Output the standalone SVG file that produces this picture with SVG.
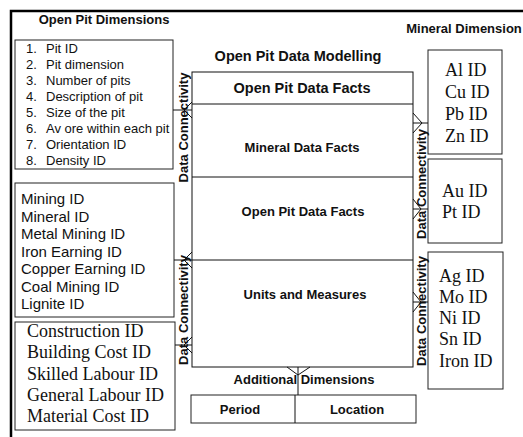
<svg xmlns="http://www.w3.org/2000/svg" width="523" height="437" viewBox="0 0 523 437">
<style>
.box{fill:#fff;stroke:#222;stroke-width:1}
.ln{fill:none;stroke:#111;stroke-width:1}
.frame{fill:none;stroke:#000;stroke-width:2.5}
.hd{font-family:"Liberation Sans",Arial,sans-serif;font-weight:bold;font-size:13px;fill:#111}
.sans{font-family:"Liberation Sans",Arial,sans-serif;font-size:13px;fill:#111}
.sans2{font-family:"Liberation Sans",Arial,sans-serif;font-size:15px;fill:#111}
.serif{font-family:"Liberation Serif","Times New Roman",serif;font-size:18px;fill:#111}
.dc{font-family:"Liberation Sans",Arial,sans-serif;font-weight:bold;font-size:13px;fill:#111}
</style>
<rect x="0" y="0" width="523" height="437" fill="#fff"/>
<g id="frame">
<path class="frame" d="M11,437 V11 H523"/>
</g>
<g id="titles">
<text class="hd" x="104" y="24" text-anchor="middle">Open Pit Dimensions</text>
<text class="hd" x="464" y="33" text-anchor="middle">Mineral Dimension</text>
<text class="hd" x="298" y="61" text-anchor="middle" style="font-size:14.5px">Open Pit Data Modelling</text>
</g>
<g id="pit-dimensions">
<rect class="box" x="15" y="40" width="158" height="129"/>
<g class="sans">
<text x="26" y="52.5">1.</text><text x="46" y="52.5">Pit ID</text>
<text x="26" y="68.6">2.</text><text x="46" y="68.6">Pit dimension</text>
<text x="26" y="84.7">3.</text><text x="46" y="84.7">Number of pits</text>
<text x="26" y="100.8">4.</text><text x="46" y="100.8">Description of pit</text>
<text x="26" y="116.9">5.</text><text x="46" y="116.9">Size of the pit</text>
<text x="26" y="133">6.</text><text x="46" y="133">Av ore within each pit</text>
<text x="26" y="149.1">7.</text><text x="46" y="149.1">Orientation ID</text>
<text x="26" y="165.2">8.</text><text x="46" y="165.2">Density ID</text>
</g>
</g>
<g id="mining-dimensions">
<rect class="box" x="15" y="183" width="159" height="134"/>
<g class="sans2">
<text x="21" y="204">Mining ID</text>
<text x="21" y="221.5">Mineral ID</text>
<text x="21" y="239">Metal Mining ID</text>
<text x="21" y="256.5">Iron Earning ID</text>
<text x="21" y="274">Copper Earning ID</text>
<text x="21" y="291.5">Coal Mining ID</text>
<text x="21" y="309">Lignite ID</text>
</g>
</g>
<g id="cost-dimensions">
<rect class="box" x="15" y="322" width="160" height="108"/>
<g class="serif">
<text x="27" y="337">Construction ID</text>
<text x="27" y="358.3">Building Cost ID</text>
<text x="27" y="379.6">Skilled Labour ID</text>
<text x="27" y="401">General Labour ID</text>
<text x="27" y="422">Material Cost ID</text>
</g>
</g>
<g id="fact-table">
<rect class="box" x="192" y="72" width="221" height="295" style="stroke:#111"/>
<line class="ln" x1="192" y1="104" x2="413" y2="104"/>
<line class="ln" x1="192" y1="177" x2="413" y2="177"/>
<line class="ln" x1="192" y1="260" x2="413" y2="260"/>
<text class="hd" x="302" y="93" text-anchor="middle" style="font-size:14.5px">Open Pit Data Facts</text>
<text class="hd" x="302" y="152" text-anchor="middle">Mineral Data Facts</text>
<text class="hd" x="303" y="216" text-anchor="middle">Open Pit Data Facts</text>
<text class="hd" x="305" y="299" text-anchor="middle">Units and Measures</text>
</g>
<g id="mineral-a">
<rect class="box" x="428" y="50" width="74" height="104"/>
<g class="serif">
<text x="445" y="76">Al ID</text>
<text x="445" y="98">Cu ID</text>
<text x="445" y="120">Pb ID</text>
<text x="445" y="142">Zn ID</text>
</g>
</g>
<g id="mineral-b">
<rect class="box" x="428" y="159" width="74" height="84"/>
<g class="serif">
<text x="442" y="197">Au ID</text>
<text x="442" y="218">Pt ID</text>
</g>
</g>
<g id="mineral-c">
<rect class="box" x="428" y="252" width="75" height="137"/>
<g class="serif">
<text x="439" y="281.5">Ag ID</text>
<text x="439" y="302.7">Mo ID</text>
<text x="439" y="324">Ni ID</text>
<text x="439" y="345">Sn ID</text>
<text x="439" y="366.5">Iron ID</text>
</g>
</g>
<g id="additional-dimensions">
<text class="hd" x="304" y="384" text-anchor="middle">Additional Dimensions</text>
<rect class="box" x="191" y="395" width="225" height="28"/>
<line class="ln" x1="295" y1="395" x2="295" y2="423"/>
<text class="hd" x="240" y="414" text-anchor="middle">Period</text>
<text class="hd" x="357" y="414" text-anchor="middle">Location</text>
</g>
<g id="connectors">
<path class="ln" d="M173,110 H192 M184,110 L192,102 M184,110 L192,118"/>
<path class="ln" d="M174,260 H192 M184,260 L192,252 M184,260 L192,268"/>
<path class="ln" d="M175,345 H192 M184,345 L192,337 M184,345 L192,353"/>
<path class="ln" d="M413,123 H428 M422,123 L413,113 M422,123 L413,133"/>
<path class="ln" d="M413,209 H428 M421,209 L413,199 M421,209 L413,219"/>
<path class="ln" d="M413,302 H428 M421,302 L413,292 M421,302 L413,312"/>
<path class="ln" d="M298,367 V395 M298,375 L287,367 M298,375 L310,367"/>
</g>
<g id="connectivity-labels">
<text class="dc" transform="translate(188,127.5) rotate(-90)" text-anchor="middle">Data Connectivity</text>
<text class="dc" transform="translate(188,310) rotate(-90)" text-anchor="middle">Data Connectivity</text>
<text class="dc" transform="translate(425.5,184) rotate(-90)" text-anchor="middle">Data Connectivity</text>
<text class="dc" transform="translate(426,311) rotate(-90)" text-anchor="middle">Data Connectivity</text>
</g>
</svg>
